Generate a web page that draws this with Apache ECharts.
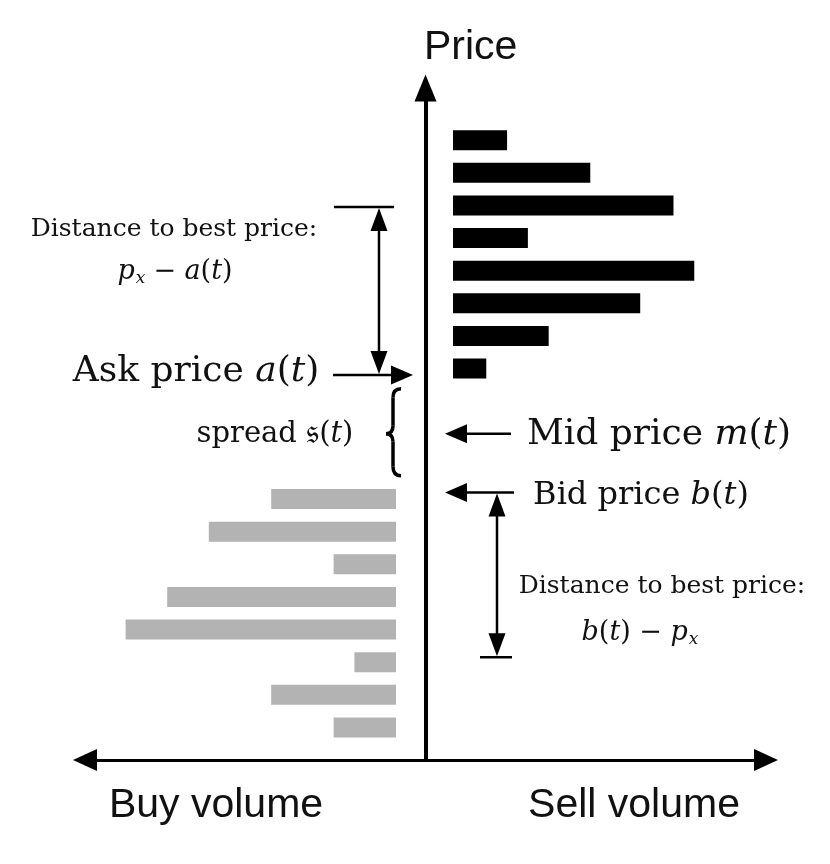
<!DOCTYPE html>
<html>
<head>
<meta charset="utf-8">
<script src="https://cdn.jsdelivr.net/npm/echarts@6/dist/echarts.min.js"></script>
<style>
html, body { margin: 0; padding: 0; background: #fff; }
#chart { width: 830px; height: 864px; }
</style>
</head>
<body>
<div id="chart"></div>
<script>
// price levels on the vertical axis (0 = volume axis)
var priceLevels = ['0','1','2','3','4','5','6','7','8','9','10','11','12','13','14','15','16','17','18','19','20','21'];
// buy side (bids), bottom to top
var bidLevels = [1, 2, 3, 4, 5, 6, 7, 8];
var bidVolume = [3, 6, 2, 13, 11, 3, 9, 6];
// sell side (asks), bottom to top
var askLevels = [12, 13, 14, 15, 16, 17, 18, 19];
var askVolume = [1.6, 4.6, 9, 11.6, 3.6, 10.6, 6.6, 2.6];
// reference prices, in price levels
var askPriceLevel = 11.8;
var midPriceLevel = 10;
var bidPriceLevel = 8.2;
var askFarLevel = 16.95;
var bidFarLevel = 3.15;

var SERIF = '"DejaVu Serif", "Liberation Serif", serif';
var SANS = '"Liberation Sans", Arial, sans-serif';

var chart = echarts.init(document.getElementById('chart'));

function pairs(levels, vols) {
    return levels.map(function (l, i) { return [vols[i], l]; });
}

chart.setOption({
    animation: false,
    backgroundColor: '#fff',
    grid: [
        { left: 85, right: 64, top: 88, bottom: 104 },
        { left: 84, right: 434, top: 75, bottom: 104 },
        { left: 453, right: 65, top: 75, bottom: 104 }
    ],
    xAxis: [{
        gridIndex: 0, type: 'value', min: -17, max: 17,
        axisLine: { show: true, onZero: true, symbol: ['triangle', 'triangle'], symbolSize: [22, 24],
            lineStyle: { color: '#000', width: 3 } },
        axisTick: { show: false }, axisLabel: { show: false }, splitLine: { show: false }
    }, {
        gridIndex: 1, type: 'value', min: 0, max: 15, inverse: true, show: false
    }, {
        gridIndex: 2, type: 'value', min: 0, max: 15, show: false
    }],
    yAxis: [{
        gridIndex: 0, type: 'value', min: 0, max: 20.6,
        axisLine: { show: true, onZero: true, symbol: ['none', 'triangle'], symbolSize: [22, 27],
            lineStyle: { color: '#000', width: 4 } },
        axisTick: { show: false }, axisLabel: { show: false }, splitLine: { show: false }
    }, {
        gridIndex: 1, type: 'category', data: priceLevels, boundaryGap: false, show: false
    }, {
        gridIndex: 2, type: 'category', data: priceLevels, boundaryGap: false, show: false
    }],
    series: [{
        name: 'Buy volume', type: 'bar', xAxisIndex: 1, yAxisIndex: 1,
        barWidth: 20, itemStyle: { color: '#b3b3b3' },
        data: pairs(bidLevels, bidVolume)
    }, {
        name: 'Sell volume', type: 'bar', xAxisIndex: 2, yAxisIndex: 2,
        barWidth: 20, itemStyle: { color: '#000' },
        data: pairs(askLevels, askVolume)
    }]
});

function py(level) {
    return chart.convertToPixel({ xAxisIndex: 0, yAxisIndex: 0 }, [0, level])[1];
}

var stroke = { stroke: '#000', lineWidth: 2.5 };

function line(x1, y1, x2, y2, w) {
    return { type: 'line', shape: { x1: x1, y1: y1, x2: x2, y2: y2 },
        style: { stroke: '#000', lineWidth: w || 2.5 }, z: 10 };
}

function curve(x1, y1, cx, cy, x2, y2) {
    return { type: 'bezierCurve', shape: { x1: x1, y1: y1, cpx1: cx, cpy1: cy, x2: x2, y2: y2 },
        style: { stroke: '#000', lineWidth: 3.5, fill: null }, z: 10 };
}

// solid triangular arrow head; dir = 'up' | 'down' | 'left' | 'right'
function head(x, y, dir, len, wid) {
    var p;
    if (dir === 'up') p = [[x, y], [x - wid / 2, y + len], [x + wid / 2, y + len]];
    if (dir === 'down') p = [[x, y], [x - wid / 2, y - len], [x + wid / 2, y - len]];
    if (dir === 'left') p = [[x, y], [x + len, y - wid / 2], [x + len, y + wid / 2]];
    if (dir === 'right') p = [[x, y], [x - len, y - wid / 2], [x - len, y + wid / 2]];
    return { type: 'polygon', shape: { points: p }, style: { fill: '#000' }, z: 10 };
}

function label(x, y, text, size, rich) {
    return {
        type: 'text', x: x, y: y, z: 10,
        style: {
            text: text, fontFamily: SERIF, fontSize: size, fill: '#111',
            align: 'center', verticalAlign: 'middle', rich: rich || {}
        }
    };
}

function it(size) {
    return { fontFamily: SERIF, fontStyle: 'italic', fontSize: size, fill: '#111' };
}
function rm(size) {
    return { fontFamily: SERIF, fontSize: size, fill: '#111' };
}
function sub(size) {
    return { fontFamily: SERIF, fontStyle: 'italic', fontSize: size, fill: '#111', padding: [size * 0.75, 0, 0, 1] };
}

var yAsk = py(askPriceLevel);
var yMid = py(midPriceLevel);
var yBid = py(bidPriceLevel);
var yAskFar = py(askFarLevel);
var yBidFar = py(bidFarLevel);

var g = [];
// axis captions
g.push({ type: 'text', x: 424, y: 48, style: { text: 'Price', fontFamily: SANS, fontSize: 41, fill: '#111', align: 'left', verticalAlign: 'middle' } });
g.push({ type: 'text', x: 216, y: 806, style: { text: 'Buy volume', fontFamily: SANS, fontSize: 41, fill: '#111', align: 'center', verticalAlign: 'middle' } });
g.push({ type: 'text', x: 634, y: 806, style: { text: 'Sell volume', fontFamily: SANS, fontSize: 41, fill: '#111', align: 'center', verticalAlign: 'middle' } });

// ask side distance marker
g.push(line(334, yAskFar, 394, yAskFar));
g.push(line(379, yAskFar + 10, 379, yAsk - 10));
g.push(head(379, yAskFar + 1, 'up', 23, 17));
g.push(head(379, yAsk - 1, 'down', 23, 17));
// ask price arrow
g.push(line(333, yAsk, 400, yAsk));
g.push(head(413, yAsk, 'right', 22, 19));

// spread brace
var b0 = yMid - 45, b1 = yMid + 42;
g.push(curve(401, b0, 393, b0, 393, b0 + 9));
g.push(line(393, b0 + 9, 393, yMid - 8, 3.5));
g.push(curve(393, yMid - 8, 393, yMid, 386, yMid));
g.push(curve(386, yMid, 393, yMid, 393, yMid + 8));
g.push(line(393, yMid + 8, 393, b1 - 9, 3.5));
g.push(curve(393, b1 - 9, 393, b1, 401, b1));

// mid and bid arrows
g.push(line(455, yMid, 511, yMid));
g.push(head(445, yMid, 'left', 22, 19));
g.push(line(455, yBid, 514, yBid));
g.push(head(445, yBid, 'left', 22, 19));

// bid side distance marker
g.push(line(497, yBid + 10, 497, yBidFar - 10));
g.push(head(497, yBid + 1, 'up', 23, 17));
g.push(head(497, yBidFar - 1, 'down', 23, 17));
g.push(line(480, yBidFar, 512, yBidFar));

// labels
g.push(label(174, 229, 'Distance to best price:', 25));
g.push(label(175, 272, '{i|p}{s|x} {r|\u2212} {i|a}{r|(}{i|t}{r|)}', 26,
    { i: it(27), r: rm(27), s: sub(17) }));
g.push(label(196, 372, 'Ask price {i|a}({i|t})', 36, { i: it(36) }));
g.push(label(275, 434, 'spread {f|\uD835\uDD30}({i|t})', 29, { f: rm(34), i: it(29) }));
g.push(label(659, 435, 'Mid price {i|m}({i|t})', 36, { i: it(36) }));
g.push(label(641, 496, 'Bid price {i|b}({i|t})', 32, { i: it(32) }));
g.push(label(662, 586, 'Distance to best price:', 25));
g.push(label(640, 633, '{i|b}{r|(}{i|t}{r|) \u2212 }{i|p}{s|x}', 26,
    { i: it(27), r: rm(27), s: sub(17) }));

chart.setOption({ graphic: g });
</script>
</body>
</html>
